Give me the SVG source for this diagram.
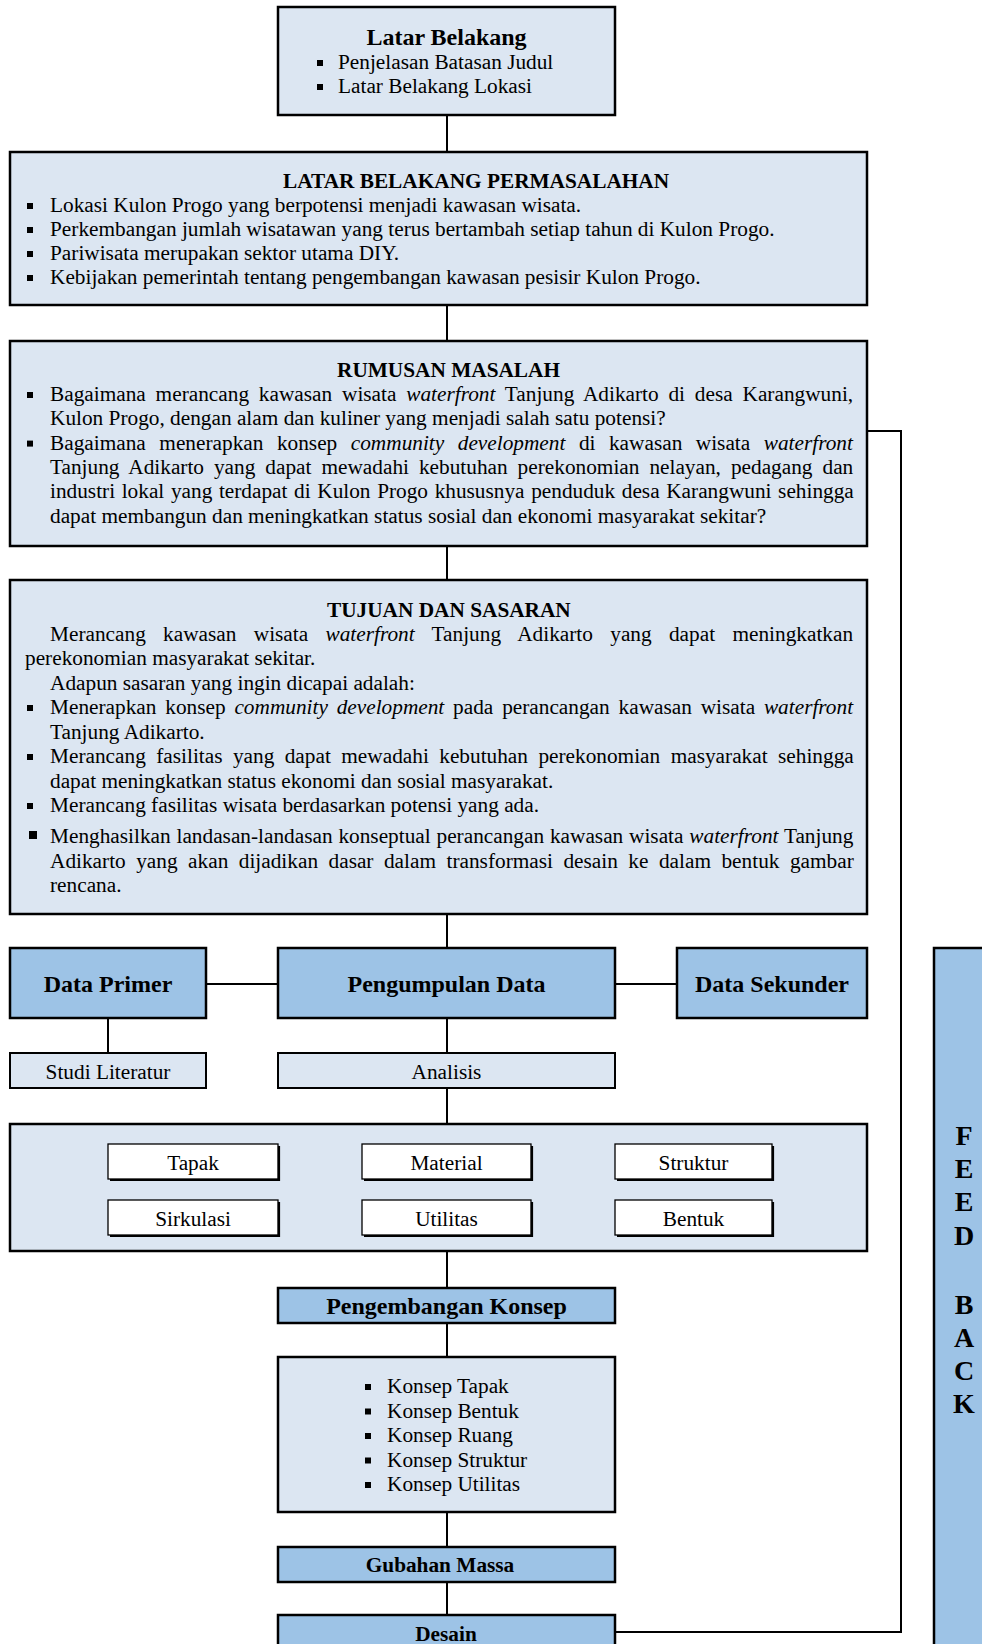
<svg xmlns="http://www.w3.org/2000/svg" width="982" height="1644" viewBox="0 0 982 1644">
<style>
.lt{fill:#DCE6F2;stroke:#000;stroke-width:2.5}
.dk{fill:#9DC3E6;stroke:#000;stroke-width:2.5}
.sm{fill:#DCE6F2;stroke:#000;stroke-width:2}
.wh{fill:#fff;stroke:#000;stroke-width:1.3}
.sh{fill:none;stroke:#000;stroke-width:2.2}
.t{font-family:"Liberation Serif","Times New Roman",serif;font-size:21.3px;fill:#000}
.b{font-weight:bold}
.c{text-anchor:middle}
.i{font-style:italic}
.con{stroke:#000;stroke-width:2;fill:none}
.bu{fill:#000}
</style>
<rect width="982" height="1644" fill="#fff"/>
<g id="connectors">
<line class="con" x1="447" y1="115" x2="447" y2="152"/>
<line class="con" x1="447" y1="305" x2="447" y2="341"/>
<line class="con" x1="447" y1="546" x2="447" y2="580"/>
<line class="con" x1="447" y1="914" x2="447" y2="948"/>
<line class="con" x1="206" y1="984" x2="278" y2="984"/>
<line class="con" x1="615" y1="984" x2="677" y2="984"/>
<line class="con" x1="108" y1="1018" x2="108" y2="1053"/>
<line class="con" x1="447" y1="1018" x2="447" y2="1053"/>
<line class="con" x1="447" y1="1088" x2="447" y2="1124"/>
<line class="con" x1="447" y1="1251" x2="447" y2="1288"/>
<line class="con" x1="447" y1="1323" x2="447" y2="1357"/>
<line class="con" x1="447" y1="1512" x2="447" y2="1547"/>
<line class="con" x1="447" y1="1582" x2="447" y2="1615"/>
<polyline class="con" points="867,431 901,431 901,1632 615,1632"/>
</g>
<g id="latar-belakang">
<rect class="lt" x="278" y="7" width="337" height="108"/>
<text class="t b c" x="446.5" y="45" style="font-size:24px">Latar Belakang</text>
<rect class="bu" x="317" y="60" width="6" height="6"/>
<text class="t" x="338" y="69">Penjelasan Batasan Judul</text>
<rect class="bu" x="317" y="84" width="6" height="6"/>
<text class="t" x="338" y="93">Latar Belakang Lokasi</text>
</g>
<g id="latar-belakang-permasalahan">
<rect class="lt" x="10" y="152" width="857" height="153"/>
<text class="t b" x="283" y="188">LATAR BELAKANG PERMASALAHAN</text>
<rect class="bu" x="27" y="203" width="6" height="6"/>
<text class="t" x="50" y="212">Lokasi Kulon Progo yang berpotensi menjadi kawasan wisata.</text>
<rect class="bu" x="27" y="227" width="6" height="6"/>
<text class="t" x="50" y="236">Perkembangan jumlah wisatawan yang terus bertambah setiap tahun di Kulon Progo.</text>
<rect class="bu" x="27" y="251" width="6" height="6"/>
<text class="t" x="50" y="260">Pariwisata merupakan sektor utama DIY.</text>
<rect class="bu" x="27" y="275" width="6" height="6"/>
<text class="t" x="50" y="284">Kebijakan pemerintah tentang pengembangan kawasan pesisir Kulon Progo.</text>
</g>
<g id="rumusan-masalah">
<rect class="lt" x="10" y="341" width="857" height="205"/>
<text class="t b" x="337" y="377">RUMUSAN MASALAH</text>
<rect class="bu" x="27" y="392" width="6" height="6"/>
<text class="t" x="50" y="401" word-spacing="4.5">Bagaimana merancang kawasan wisata <tspan class="i">waterfront</tspan> Tanjung Adikarto di desa Karangwuni,</text>
<text class="t" x="50" y="425.3">Kulon Progo, dengan alam dan kuliner yang menjadi salah satu potensi?</text>
<rect class="bu" x="27" y="440.6" width="6" height="6"/>
<text class="t" x="50" y="449.6" word-spacing="8.2">Bagaimana menerapkan konsep <tspan class="i">community development</tspan> di kawasan wisata <tspan class="i">waterfront</tspan></text>
<text class="t" x="50" y="473.9" word-spacing="4.65">Tanjung Adikarto yang dapat mewadahi kebutuhan perekonomian nelayan, pedagang dan</text>
<text class="t" x="50" y="498.2" word-spacing="1.29">industri lokal yang terdapat di Kulon Progo khususnya penduduk desa Karangwuni sehingga</text>
<text class="t" x="50" y="522.5">dapat membangun dan meningkatkan status sosial dan ekonomi masyarakat sekitar?</text>
</g>
<g id="tujuan-dan-sasaran">
<rect class="lt" x="10" y="580" width="857" height="334"/>
<text class="t b" x="327" y="617">TUJUAN DAN SASARAN</text>
<text class="t" x="50" y="640.5" word-spacing="12">Merancang kawasan wisata <tspan class="i">waterfront</tspan> Tanjung Adikarto yang dapat meningkatkan</text>
<text class="t" x="25" y="665">perekonomian masyarakat sekitar.</text>
<text class="t" x="50" y="689.5">Adapun sasaran yang ingin dicapai adalah:</text>
<rect class="bu" x="27" y="705" width="6" height="6"/>
<text class="t" x="50" y="714" word-spacing="3.49">Menerapkan konsep <tspan class="i">community development</tspan> pada perancangan kawasan wisata <tspan class="i">waterfront</tspan></text>
<text class="t" x="50" y="738.5">Tanjung Adikarto.</text>
<rect class="bu" x="27" y="754" width="6" height="6"/>
<text class="t" x="50" y="763" word-spacing="5.11">Merancang fasilitas yang dapat mewadahi kebutuhan perekonomian masyarakat sehingga</text>
<text class="t" x="50" y="787.5">dapat meningkatkan status ekonomi dan sosial masyarakat.</text>
<rect class="bu" x="27" y="803" width="6" height="6"/>
<text class="t" x="50" y="812">Merancang fasilitas wisata berdasarkan potensi yang ada.</text>
<rect class="bu" x="29" y="831" width="8" height="8"/>
<text class="t" x="50" y="843" word-spacing="0.5">Menghasilkan landasan-landasan konseptual perancangan kawasan wisata <tspan class="i">waterfront</tspan> Tanjung</text>
<text class="t" x="50" y="867.5" word-spacing="5.17">Adikarto yang akan dijadikan dasar dalam transformasi desain ke dalam bentuk gambar</text>
<text class="t" x="50" y="892">rencana.</text>
</g>
<g id="data-primer">
<rect class="dk" x="10" y="948" width="196" height="70"/>
<text class="t b c" x="108" y="992" style="font-size:24px">Data Primer</text>
</g>
<g id="pengumpulan-data">
<rect class="dk" x="278" y="948" width="337" height="70"/>
<text class="t b c" x="446.5" y="992" style="font-size:24px">Pengumpulan Data</text>
</g>
<g id="data-sekunder">
<rect class="dk" x="677" y="948" width="190" height="70"/>
<text class="t b c" x="772" y="992" style="font-size:24px">Data Sekunder</text>
</g>
<g id="studi-literatur">
<rect class="sm" x="10" y="1053" width="196" height="35"/>
<text class="t c" x="108" y="1079">Studi Literatur</text>
</g>
<g id="analisis">
<rect class="sm" x="278" y="1053" width="337" height="35"/>
<text class="t c" x="446.5" y="1079">Analisis</text>
</g>
<g id="aspek-analisis">
<rect class="lt" x="10" y="1124" width="857" height="127"/>
</g>
<g id="tapak">
<rect class="wh" x="108" y="1144" width="170" height="35"/>
<path class="sh" d="M279,1146 V1180 H110"/>
<text class="t c" x="193" y="1170">Tapak</text>
</g>
<g id="material">
<rect class="wh" x="362" y="1144" width="169" height="35"/>
<path class="sh" d="M532,1146 V1180 H364"/>
<text class="t c" x="446.5" y="1170">Material</text>
</g>
<g id="struktur">
<rect class="wh" x="615" y="1144" width="157" height="35"/>
<path class="sh" d="M773,1146 V1180 H617"/>
<text class="t c" x="693.5" y="1170">Struktur</text>
</g>
<g id="sirkulasi">
<rect class="wh" x="108" y="1200" width="170" height="35"/>
<path class="sh" d="M279,1202 V1236 H110"/>
<text class="t c" x="193" y="1226">Sirkulasi</text>
</g>
<g id="utilitas">
<rect class="wh" x="362" y="1200" width="169" height="35"/>
<path class="sh" d="M532,1202 V1236 H364"/>
<text class="t c" x="446.5" y="1226">Utilitas</text>
</g>
<g id="bentuk">
<rect class="wh" x="615" y="1200" width="157" height="35"/>
<path class="sh" d="M773,1202 V1236 H617"/>
<text class="t c" x="693.5" y="1226">Bentuk</text>
</g>
<g id="pengembangan-konsep">
<rect class="dk" x="278" y="1288" width="337" height="35"/>
<text class="t b c" x="446.5" y="1314" style="font-size:24px">Pengembangan Konsep</text>
</g>
<g id="daftar-konsep">
<rect class="lt" x="278" y="1357" width="337" height="155"/>
<rect class="bu" x="365" y="1384" width="6" height="6"/>
<text class="t" x="387" y="1393">Konsep Tapak</text>
<rect class="bu" x="365" y="1408.5" width="6" height="6"/>
<text class="t" x="387" y="1417.5">Konsep Bentuk</text>
<rect class="bu" x="365" y="1433" width="6" height="6"/>
<text class="t" x="387" y="1442">Konsep Ruang</text>
<rect class="bu" x="365" y="1457.5" width="6" height="6"/>
<text class="t" x="387" y="1466.5">Konsep Struktur</text>
<rect class="bu" x="365" y="1482" width="6" height="6"/>
<text class="t" x="387" y="1491">Konsep Utilitas</text>
</g>
<g id="gubahan-massa">
<rect class="dk" x="278" y="1547" width="337" height="35"/>
<text class="t b c" x="440" y="1572">Gubahan Massa</text>
</g>
<g id="desain">
<rect class="dk" x="278" y="1615" width="337" height="45"/>
<text class="t b c" x="446" y="1641">Desain</text>
</g>
<g id="feedback">
<rect class="dk" x="934" y="948" width="60" height="720"/>
<text class="t b c" style="font-size:28px"><tspan x="964" y="1145">F</tspan><tspan x="964" y="1178">E</tspan><tspan x="964" y="1211">E</tspan><tspan x="964" y="1245">D</tspan><tspan x="964" y="1314">B</tspan><tspan x="964" y="1347">A</tspan><tspan x="964" y="1380">C</tspan><tspan x="964" y="1413">K</tspan></text>
</g>
</svg>
